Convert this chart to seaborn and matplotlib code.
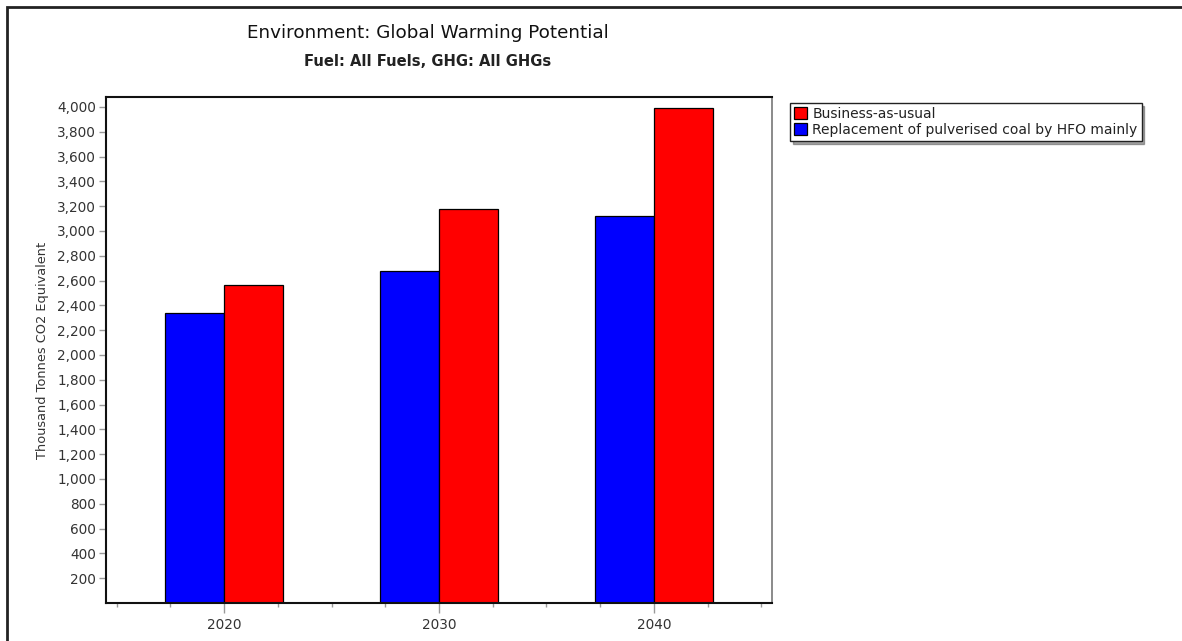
import numpy as np
import pandas as pd
import seaborn as sns
import matplotlib.pyplot as plt
from matplotlib.patches import Rectangle

# Values (Thousand Tonnes CO2 Equivalent)
years = ['2020', '2030', '2040']
business_as_usual = [2565, 3175, 3990]
replacement_hfo = [2340, 2675, 3122]
scenarios = ['Business-as-usual', 'Replacement of pulverised coal by HFO mainly']
scenario_colors = ['#ff0000', '#0000ff']
y_ticks = list(range(200, 4001, 200))

# Build long-format table for seaborn
df = pd.DataFrame({
    'Year': years * 2,
    'Value': business_as_usual + replacement_hfo,
    'Scenario': [scenarios[0]] * 3 + [scenarios[1]] * 3,
})

sns.set_style("white")
plt.rcParams['font.family'] = ['DejaVu Sans']

fig = plt.figure(figsize=(11.82, 6.41), dpi=100)
ax = fig.add_axes([106 / 1182, 1 - 603 / 641, 666 / 1182, 506 / 641])

# blue bar on the left of each group, red on the right
sns.barplot(data=df, x='Year', y='Value', hue='Scenario',
            hue_order=[scenarios[1], scenarios[0]],
            palette={scenarios[0]: scenario_colors[0], scenarios[1]: scenario_colors[1]},
            width=0.55, gap=0, edgecolor='black', linewidth=0.9,
            saturation=1, ax=ax)

handles, labels = ax.get_legend_handles_labels()
ax.legend_.remove()

ax.set_xlim(-0.549, 2.549)
ax.set_ylim(0, 4080)
ax.set_yticks(y_ticks)
ax.set_yticklabels([f'{v:,}' for v in y_ticks])
ax.set_xticks(np.arange(-0.5, 2.51, 0.25), minor=True)
ax.tick_params(axis='y', which='major', length=5, width=1, color='#999999',
               labelsize=9.8, labelcolor='#333333', left=True, direction='out', pad=2)
ax.tick_params(axis='x', which='major', length=7, width=1, color='#999999',
               labelsize=9.8, labelcolor='#333333', bottom=True, direction='out', pad=4)
ax.tick_params(axis='x', which='minor', length=3, width=1, color='#999999',
               bottom=True, direction='out')

ax.set_xlabel('')
ax.set_ylabel('Thousand Tonnes CO2 Equivalent', fontsize=9.3, color='#333333', labelpad=6)

for side in ['left', 'bottom', 'top']:
    ax.spines[side].set_color('#111111')
    ax.spines[side].set_linewidth(1.5)
ax.spines['right'].set_color('#777777')
ax.spines['right'].set_linewidth(1.2)

# Titles
fig.text(428 / 1182, 1 - 33 / 641, 'Environment: Global Warming Potential',
         ha='center', va='center', fontsize=13.2, color='#111111')
fig.text(428 / 1182, 1 - 61 / 641, 'Fuel: All Fuels, GHG: All GHGs',
         ha='center', va='center', fontsize=10.6, fontweight='bold', color='#222222')

# Legend: Business-as-usual first
order = [labels.index(s) for s in scenarios]
leg = fig.legend([handles[i] for i in order], [labels[i] for i in order],
                 loc='upper left', bbox_to_anchor=(790 / 1182, 1 - 103 / 641),
                 fontsize=10, frameon=True, fancybox=False, shadow=True,
                 edgecolor='#222222', borderpad=0.3, labelspacing=0.15,
                 handlelength=0.95, handleheight=0.95, handletextpad=0.35,
                 borderaxespad=0)
leg.get_frame().set_linewidth(1)
for t in leg.get_texts():
    t.set_color('#222222')

# Outer frame around the chart
fig.patches.append(Rectangle((7 / 1182, -0.1), 1.2, 1.1 - 7 / 641,
                             transform=fig.transFigure, fill=False,
                             linewidth=2, edgecolor='#222222'))

fig.savefig('out.png', dpi=100)
